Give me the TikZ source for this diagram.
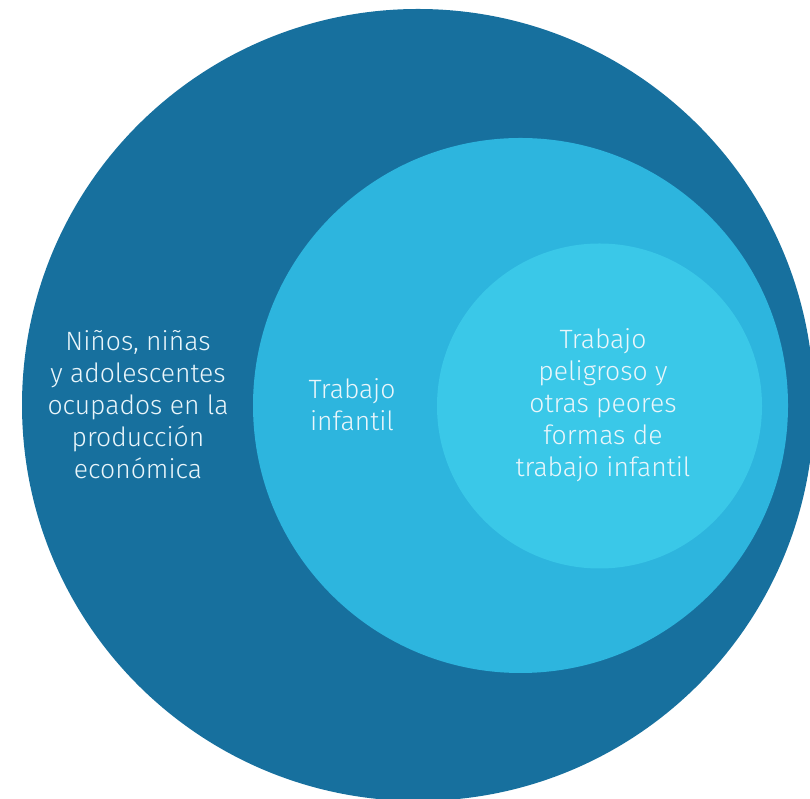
\documentclass[tikz,border=0pt]{standalone}
\usepackage{fontspec}
\setmainfont{Fira Sans Light}
\definecolor{outerblue}{HTML}{17709E}
\definecolor{midblue}{HTML}{2DB5DE}
\definecolor{innerblue}{HTML}{3AC8E8}
\definecolor{txt}{HTML}{EAF6FB}
\begin{document}
\begin{tikzpicture}[x=1pt,y=1pt,
  lbl/.style={text=txt,align=center,font=\fontsize{26.5}{32}\selectfont,inner sep=0pt}]
\useasboundingbox (0,0) rectangle (810,799);
\begin{scope}
\clip (0,0) rectangle (810,799);
\fill[outerblue] (418,394) circle (396);
\fill[midblue] (520.5,393.5) circle (267.5);
\fill[innerblue] (599.5,393) circle (162.5);
\end{scope}
\node[lbl] (outer) at (138,394) {Niños, niñas\\y adolescentes\\ocupados en la\\producción\\económica};
\node[lbl] (mid) at (352,394) {Trabajo\\infantil};
\node[lbl] (inner) at (603,394) {Trabajo\\peligroso y\\otras peores\\formas de\\trabajo infantil};
\end{tikzpicture}
\end{document}
